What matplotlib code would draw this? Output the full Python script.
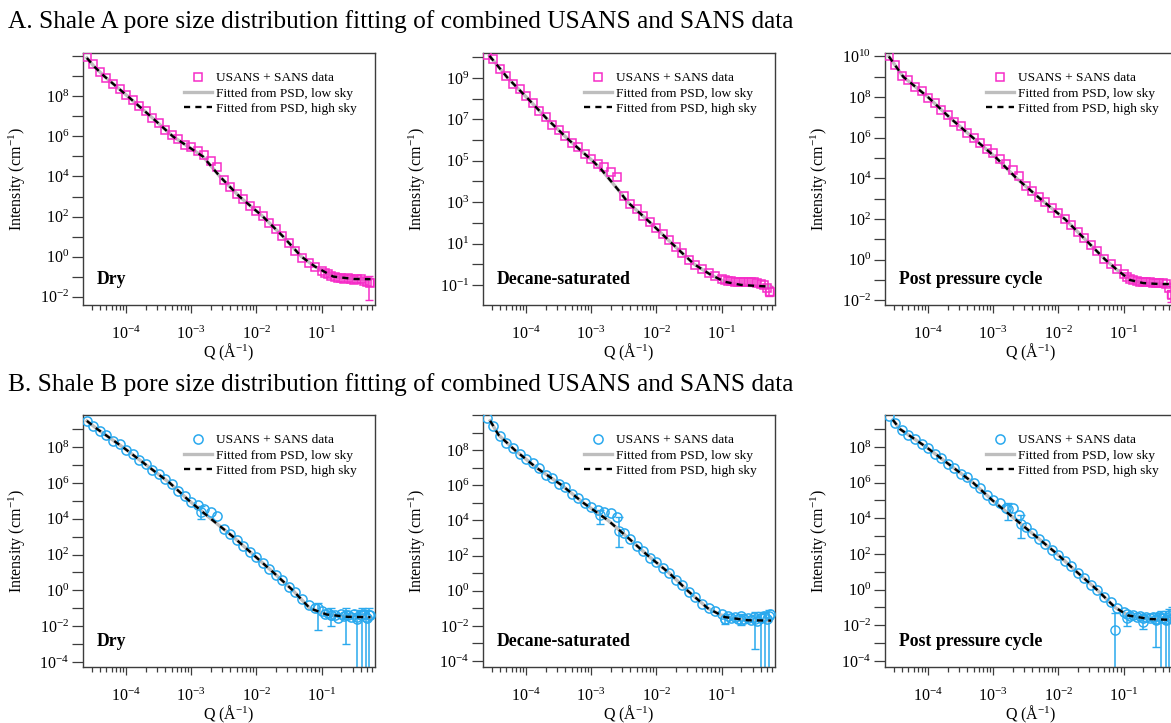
import numpy as np
import matplotlib
matplotlib.use('Agg')
import matplotlib.pyplot as plt
from matplotlib.ticker import FixedLocator, FuncFormatter, LogLocator, NullLocator, NullFormatter

# fonts (Times-like)
plt.rcParams['font.family'] = ['Liberation Serif', 'DejaVu Serif']
plt.rcParams['mathtext.fontset'] = 'custom'
plt.rcParams['mathtext.rm'] = 'Liberation Serif'
plt.rcParams['mathtext.it'] = 'Liberation Serif:italic'
plt.rcParams['mathtext.bf'] = 'Liberation Serif:bold'

# shared Q grid of the data points, log10(Q / A^-1)
log_q = [-4.6, -4.5, -4.4, -4.3, -4.2, -4.1, -4.0, -3.9, -3.8, -3.7,
         -3.6, -3.5, -3.4, -3.3, -3.2, -3.1, -3.0, -2.9, -2.8, -2.7,
         -2.6, -2.5, -2.4, -2.3, -2.2, -2.1, -2.0, -1.9, -1.8, -1.7,
         -1.6, -1.5, -1.4, -1.3, -1.2, -1.1, -1.0,
         -0.95, -0.9, -0.85, -0.8, -0.75, -0.7, -0.65, -0.6, -0.55, -0.5,
         -0.45, -0.4, -0.35, -0.3, -0.25]

# ---- Shale A, log10(I / cm^-1) ----
a_dry_i = [9.95, 9.60, 9.20, 8.93, 8.60, 8.37, 8.05, 7.82, 7.50, 7.27,
           6.93, 6.68, 6.33, 6.08, 5.85, 5.58, 5.45, 5.25, 5.05, 4.75,
           4.45, 3.85, 3.50, 3.12, 2.88, 2.55, 2.30, 2.02, 1.66, 1.38,
           1.05, 0.66, 0.30, -0.05, -0.30, -0.52, -0.70,
           -0.80, -0.88, -0.96, -1.00, -1.05, -1.06, -1.10, -1.08, -1.12, -1.15,
           -1.10, -1.13, -1.20, -1.25, -1.30]
a_dry_fit_q = [-4.6, -4.49, -4.33, -3.97, -3.62, -3.28, -2.82, -2.56, -2.26, -1.9,
               -1.59, -1.31, -1.1, -0.82, -0.5, -0.25]
a_dry_fit_i = [9.92, 9.5, 9.0, 8.0, 7.0, 6.0, 5.0, 4.0, 3.0, 2.0,
               1.0, 0.0, -0.5, -1.0, -1.12, -1.13]
a_dry_err_q = [-0.27]
a_dry_err_i = [-1.28]
a_dry_err_lo = [-2.17]
a_dry_err_hi = [-0.95]

a_dec_i = [10.10, 9.90, 9.42, 9.10, 8.70, 8.45, 8.12, 7.80, 7.40, 7.12,
           6.75, 6.50, 6.20, 5.86, 5.65, 5.35, 5.10, 4.85, 4.70, 4.45,
           4.20, 3.30, 2.92, 2.65, 2.33, 2.06, 1.76, 1.45, 1.15, 0.85,
           0.55, 0.22, -0.05, -0.22, -0.42, -0.58, -0.72,
           -0.78, -0.80, -0.82, -0.85, -0.85, -0.86, -0.85, -0.87, -0.86, -0.88,
           -0.90, -0.95, -1.00, -1.15, -1.35]
a_dec_fit_q = [-4.56, -4.28, -3.97, -3.67, -3.34, -2.98, -2.85, -2.55, -2.44, -2.09,
               -1.76, -1.42, -1.17, -0.95, -0.7, -0.45, -0.25]
a_dec_fit_i = [10.07, 9.0, 8.0, 7.0, 6.0, 5.0, 4.6, 3.46, 3.0, 2.0,
               1.0, 0.0, -0.5, -0.85, -1.0, -1.05, -1.08]
a_dec_err_q = [-0.27]
a_dec_err_i = [-1.3]
a_dec_err_lo = [-1.55]
a_dec_err_hi = [-1.05]

a_post_i = [10.00, 9.60, 9.05, 8.82, 8.50, 8.30, 7.98, 7.73, 7.36, 7.12,
            6.78, 6.56, 6.22, 6.00, 5.72, 5.45, 5.25, 4.95, 4.70, 4.40,
            4.10, 3.65, 3.36, 3.08, 2.82, 2.55, 2.30, 2.02, 1.72, 1.37,
            1.05, 0.70, 0.42, 0.05, -0.20, -0.48, -0.72,
            -0.85, -0.95, -1.00, -1.05, -1.08, -1.10, -1.12, -1.10, -1.14, -1.15,
            -1.13, -1.16, -1.20, -1.40, -1.75]
a_post_fit_q = [-4.6, -4.38, -4.0, -3.67, -3.31, -2.95, -2.64, -2.28, -1.9, -1.59,
                -1.28, -1.1, -0.9, -0.7, -0.45, -0.25]
a_post_fit_i = [10.0, 9.0, 8.0, 7.0, 6.0, 5.0, 4.0, 3.0, 2.0, 1.0,
                0.0, -0.5, -1.0, -1.15, -1.2, -1.2]
a_post_err_q = [-0.27]
a_post_err_i = [-1.7]
a_post_err_lo = [-2.1]
a_post_err_hi = [-1.3]

# ---- Shale B ----
b_dry_i = [9.48, 9.20, 8.87, 8.66, 8.36, 8.15, 7.85, 7.60, 7.30, 7.05,
           6.72, 6.50, 6.20, 5.93, 5.55, 5.28, 4.95, 4.75, 4.55, 4.40,
           4.15, 3.45, 3.15, 2.80, 2.50, 2.15, 1.86, 1.50, 1.20, 0.85,
           0.55, 0.18, -0.12, -0.50, -0.80, -1.00, -1.15,
           -1.30, -1.25, -1.40, -1.35, -1.55, -1.30, -1.45, -1.35, -1.50, -1.30,
           -1.60, -1.40, -1.30, -1.55, -1.40]
b_dry_fit_q = [-4.6, -4.44, -4.05, -3.69, -3.33, -3.03, -2.7, -2.36, -2.05, -1.74,
               -1.44, -1.18, -0.92, -0.6, -0.25]
b_dry_fit_i = [9.46, 9.0, 8.0, 7.0, 6.0, 5.0, 4.0, 3.0, 2.0, 1.0,
               0.0, -1.0, -1.35, -1.48, -1.5]
b_dry_err_q = [-2.85, -1.05, -0.85, -0.62, -0.45, -0.38, -0.32, -0.27]
b_dry_err_i = [4.40, -1.00, -1.35, -1.40, -1.50, -1.40, -1.50, -1.40]
b_dry_err_lo = [4.00, -2.20, -2.00, -3.00, -4.40, -4.40, -4.40, -4.40]
b_dry_err_hi = [4.70, -0.70, -1.00, -1.00, -1.10, -1.00, -1.10, -1.00]

b_dec_i = [9.85, 9.40, 8.82, 8.42, 8.12, 7.76, 7.50, 7.25, 7.00, 6.60,
           6.40, 6.10, 5.88, 5.52, 5.27, 4.98, 4.75, 4.60, 4.50, 4.45,
           4.20, 3.30, 2.92, 2.55, 2.26, 1.88, 1.63, 1.28, 1.02, 0.60,
           0.32, -0.08, -0.36, -0.74, -1.00, -1.18, -1.35,
           -1.60, -1.45, -1.55, -1.50, -1.60, -1.45, -1.60, -1.55, -1.65, -1.50,
           -1.70, -1.55, -1.45, -1.60, -1.30]
b_dec_fit_q = [-4.55, -4.42, -4.17, -3.84, -3.45, -3.12, -2.74, -2.43, -2.13, -1.8,
               -1.52, -1.21, -0.95, -0.6, -0.24]
b_dec_fit_i = [9.67, 8.86, 8.0, 7.0, 6.0, 5.0, 4.0, 3.0, 2.0, 1.0,
               0.0, -1.0, -1.5, -1.68, -1.7]
b_dec_err_q = [-2.87, -2.57, -0.95, -0.7, -0.48, -0.4, -0.33, -0.27]
b_dec_err_i = [4.30, 3.40, -1.60, -1.65, -1.60, -1.55, -1.50, -1.45]
b_dec_err_lo = [3.80, 2.50, -1.90, -1.95, -3.30, -4.40, -4.40, -4.40]
b_dec_err_hi = [4.60, 4.20, -1.30, -1.30, -1.20, -1.20, -1.20, -1.10]

b_post_i = [9.75, 9.35, 8.95, 8.66, 8.46, 8.15, 7.93, 7.62, 7.38, 7.05,
            6.84, 6.50, 6.30, 5.95, 5.68, 5.30, 5.05, 4.85, 4.55, 4.60,
            4.20, 3.50, 3.18, 2.83, 2.58, 2.22, 1.95, 1.58, 1.30, 0.92,
            0.63, 0.27, -0.02, -0.42, -0.70, -1.05, -1.25,
            -1.35, -1.50, -1.45, -1.55, -1.50, -1.60, -1.55, -1.62, -1.55, -1.65,
            -1.50, -1.60, -1.70, -1.40, -1.65]
b_post_fit_q = [-4.54, -4.43, -4.03, -3.67, -3.31, -3.01, -2.68, -2.35, -2.02, -1.72,
                -1.41, -1.13, -0.93, -0.6, -0.25]
b_post_fit_i = [9.52, 9.0, 8.0, 7.0, 6.0, 5.0, 4.0, 3.0, 2.0, 1.0,
                0.0, -1.0, -1.45, -1.65, -1.7]
b_post_err_q = [-2.78, -2.58, -1.13, -0.95, -0.7, -0.5, -0.42, -0.35, -0.3, -0.26]
b_post_err_i = [4.50, 3.70, -2.28, -1.62, -1.81, -1.70, -1.60, -1.65, -1.55, -1.60]
b_post_err_lo = [3.90, 2.92, -4.40, -2.05, -2.20, -3.20, -4.40, -4.40, -4.40, -4.40]
b_post_err_hi = [4.85, 4.20, -1.30, -1.30, -1.40, -1.30, -1.20, -1.20, -1.10, -1.00]

panel_names = ['Dry', 'Decane-saturated', 'Post pressure cycle']
legend_labels = ['USANS + SANS data', 'Fitted from PSD, low sky', 'Fitted from PSD, high sky']

pink = '#F62CC8'
blue = '#2AA9EE'
fit_grey = '#BEBEBE'
frame = '#3C3C3C'

fig = plt.figure(figsize=(11.71, 7.23), dpi=100)
W, H = 1171.0, 723.0

col_left = [83, 483, 885]
row_top = [53, 415]
ax_w, ax_h = 292, 252

rows = [
    # (color, marker, [(data, fit_q, fit_i, err_q, err_i, err_lo, err_hi, ylim, label parity, top label)])
    (pink, 's', [
        (a_dry_i, a_dry_fit_q, a_dry_fit_i, a_dry_err_q, a_dry_err_i, a_dry_err_lo, a_dry_err_hi, (-2.42, 10.17), 0, 8),
        (a_dec_i, a_dec_fit_q, a_dec_fit_i, a_dec_err_q, a_dec_err_i, a_dec_err_lo, a_dec_err_hi, (-1.97, 10.21), 1, 9),
        (a_post_i, a_post_fit_q, a_post_fit_i, a_post_err_q, a_post_err_i, a_post_err_lo, a_post_err_hi, (-2.23, 10.17), 0, 10),
    ]),
    (blue, 'o', [
        (b_dry_i, b_dry_fit_q, b_dry_fit_i, b_dry_err_q, b_dry_err_i, b_dry_err_lo, b_dry_err_hi, (-4.28, 9.79), 0, 8),
        (b_dec_i, b_dec_fit_q, b_dec_fit_i, b_dec_err_q, b_dec_err_i, b_dec_err_lo, b_dec_err_hi, (-4.34, 10.0), 0, 8),
        (b_post_i, b_post_fit_q, b_post_fit_i, b_post_err_q, b_post_err_i, b_post_err_lo, b_post_err_hi, (-4.34, 9.79), 0, 8),
    ]),
]

q = 10.0 ** np.array(log_q)

for r, (color, marker, cols) in enumerate(rows):
    for c, (di, fq, fi, eq, ei, elo, ehi, ylim, parity, top_lab) in enumerate(cols):
        left = col_left[c] / W
        bottom = 1 - (row_top[r] + ax_h) / H
        ax = fig.add_axes([left, bottom, ax_w / W, ax_h / H])
        ax.set_xscale('log')
        ax.set_yscale('log')

        ms = 6.3 if marker == 's' else 6.6
        # error bars
        ey = 10.0 ** np.array(ei)
        ax.errorbar(10.0 ** np.array(eq), ey,
                    yerr=[ey - 10.0 ** np.array(elo), 10.0 ** np.array(ehi) - ey],
                    fmt=marker, mfc='none', mec=color, ms=ms, mew=1.0,
                    ecolor=color, elinewidth=1.1, capsize=3, capthick=1.1, zorder=2)
        grey_line, = ax.plot(10.0 ** np.array(fq), 10.0 ** np.array(fi),
                             color=fit_grey, lw=2.4, zorder=2.5)
        data_line, = ax.plot(q, 10.0 ** np.array(di), ls='none', marker=marker,
                             mfc='none', mec=color, ms=ms, mew=1.1, zorder=3)
        dash_line, = ax.plot(10.0 ** np.array(fq), 10.0 ** np.array(fi),
                             color='black', lw=1.7, dashes=(2.6, 2.2), zorder=4)

        ax.set_xlim(10 ** -4.66, 10 ** -0.18)
        ax.set_ylim(10 ** ylim[0], 10 ** ylim[1])

        # x ticks
        ax.xaxis.set_major_locator(FixedLocator([1e-4, 1e-3, 1e-2, 1e-1]))
        ax.xaxis.set_major_formatter(FuncFormatter(lambda v, p: '$10^{%d}$' % round(np.log10(v))))
        ax.xaxis.set_minor_locator(LogLocator(base=10, subs=np.arange(2, 10), numticks=20))
        ax.xaxis.set_minor_formatter(NullFormatter())
        # y ticks at every decade, labels every other one
        decs = list(range(int(np.floor(ylim[0])), int(np.ceil(ylim[1])) + 1))
        ax.yaxis.set_major_locator(FixedLocator([10.0 ** k for k in decs]))

        def ylab(v, p, par=parity, top=top_lab):
            k = round(np.log10(v))
            return '$10^{%d}$' % k if (k % 2 == par and k <= top) else ''
        ax.yaxis.set_major_formatter(FuncFormatter(ylab))
        ax.yaxis.set_minor_locator(NullLocator())

        ax.tick_params(axis='x', which='major', direction='out', length=6, width=0.9,
                       labelsize=11.5, pad=9, color=frame)
        ax.tick_params(axis='x', which='minor', direction='out', length=3.5, width=0.9, color=frame)
        ax.tick_params(axis='y', which='major', direction='out', length=8, width=0.9,
                       labelsize=11.5, pad=2, color=frame)
        for s in ax.spines.values():
            s.set_color(frame)
            s.set_linewidth(1.0)

        ax.set_xlabel('Q (Å$^{-1}$)', fontsize=11.5)
        ax.xaxis.set_label_coords(0.5, -0.145)
        ax.set_ylabel('Intensity (cm$^{-1}$)', fontsize=11.5)
        ax.yaxis.set_label_coords(-0.19, 0.5)

        ax.text(0.048, 0.103, panel_names[c], transform=ax.transAxes,
                fontsize=12.8, fontweight='bold', va='center', ha='left')

        ax.legend([data_line, grey_line, dash_line], legend_labels,
                  loc='upper left', bbox_to_anchor=(0.345, 0.925), frameon=False,
                  fontsize=9.6, handlelength=2.1, handletextpad=0.3, labelspacing=0.22,
                  borderpad=0, borderaxespad=0, numpoints=1)

fig.text(8 / W, 1 - 22 / H, 'A. Shale A pore size distribution fitting of combined USANS and SANS data',
         fontsize=18.3, ha='left', va='center')
fig.text(8 / W, 1 - 385 / H, 'B. Shale B pore size distribution fitting of combined USANS and SANS data',
         fontsize=18.3, ha='left', va='center')

fig.savefig('out.png', dpi=100)
